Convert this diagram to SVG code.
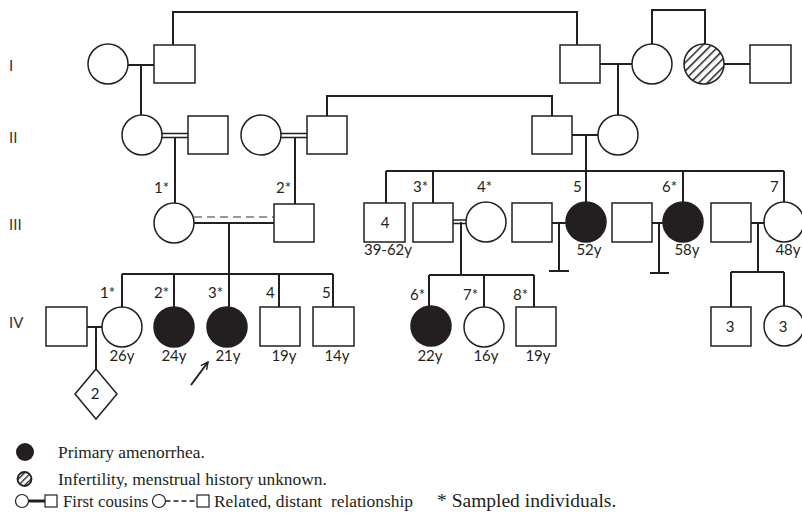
<svg xmlns="http://www.w3.org/2000/svg" width="802" height="519" viewBox="0 0 802 519">
<defs>
<style>
.s{fill:#fff;stroke:#231f20;stroke-width:1.5}
.f{fill:#231f20;stroke:#231f20;stroke-width:1.5}
.h{fill:url(#hatch);stroke:#231f20;stroke-width:1.5}
.c{stroke:#231f20;stroke-width:2;fill:none}
.d{stroke:#231f20;stroke-width:1.3;fill:none}
.g{stroke:#999;stroke-width:2.2;fill:none;stroke-dasharray:8,5}
.t{font-family:Lato,"Liberation Sans",sans-serif;font-size:15px;fill:#231f20}
.gen{font-family:Lato,"Liberation Sans",sans-serif;font-size:15px;fill:#333}
.m{text-anchor:middle}
.leg{font-family:"Liberation Serif","Times New Roman",serif;font-size:17.4px;fill:#231f20}
</style>
<pattern id="hatch" patternUnits="userSpaceOnUse" width="6" height="6" patternTransform="rotate(45)">
<rect width="6" height="6" fill="#fff"/>
<line x1="0" y1="0" x2="0" y2="6" stroke="#231f20" stroke-width="3"/>
</pattern>
<pattern id="hatch2" patternUnits="userSpaceOnUse" width="4.5" height="4.5" patternTransform="rotate(45)">
<rect width="4.5" height="4.5" fill="#fff"/>
<line x1="0" y1="0" x2="0" y2="4.5" stroke="#231f20" stroke-width="2.6"/>
</pattern>
<marker id="arr" viewBox="0 0 10 10" refX="9" refY="5" markerWidth="9" markerHeight="9" orient="auto" markerUnits="userSpaceOnUse">
<path d="M1,1 L9,5 L1,9" fill="none" stroke="#231f20" stroke-width="1.6"/>
</marker>
</defs>
<rect width="802" height="519" fill="#fff"/>

<g id="generations">
<text class="gen" x="9" y="71">I</text>
<text class="gen" x="9" y="143">II</text>
<text class="gen" x="9" y="230">III</text>
<text class="gen" x="9" y="328">IV</text>
</g>

<g id="connectors">
<path class="c" d="M173,45 V12 H577 V45"/>
<path class="c" d="M128,65 H154 M141,65 V115"/>
<path class="c" d="M600,64 H632 M618,64 V115"/>
<path class="c" d="M652,44 V10 H705 V44"/>
<path class="c" d="M724,64 H750"/>
<path class="d" d="M162,133.5 H188 M162,137.5 H188"/>
<path class="c" d="M175,137 V203"/>
<path class="d" d="M281,133.5 H307 M281,137.5 H307"/>
<path class="c" d="M295,137 V204"/>
<path class="c" d="M327,116 V96 H552 V116"/>
<path class="c" d="M572,135 H598 M586,135 V171"/>
<path class="c" d="M386,171 H784 M386,171 V203 M433,171 V203 M586,171 V202 M683,171 V202 M784,171 V202"/>
<path class="g" d="M194,217 H274"/>
<path class="c" d="M194,223 H274 M229,223 V274"/>
<path class="c" d="M122,274 H333 M122,274 V307 M174,274 V307 M229,274 V307 M279,274 V307 M333,274 V307"/>
<path class="d" d="M453,220 H466 M453,223.5 H466"/>
<path class="c" d="M461,222 V275 M429,275 H534 M429,275 V306 M484,275 V307 M534,275 V307"/>
<path class="c" d="M552,223 H566 M559,223 V271 M549,271 H569"/>
<path class="c" d="M652,223 H663 M659,223 V273 M650,273 H669"/>
<path class="c" d="M751,223 H764 M758,223 V272 M731,272 H784 M731,272 V307 M784,272 V306"/>
<path class="c" d="M87,327 H102 M96,327 V369"/>
<path class="c" d="M191,385 L208,362" stroke-width="1.6" marker-end="url(#arr)"/>
</g>

<g id="I-1"><circle class="s" cx="108" cy="64" r="20"/></g>
<g id="I-2"><rect class="s" x="154" y="45" width="41" height="38"/></g>
<g id="I-3"><rect class="s" x="560" y="45" width="40" height="38"/></g>
<g id="I-4"><circle class="s" cx="652" cy="64" r="20"/></g>
<g id="I-5"><circle class="h" cx="704" cy="64" r="20"/></g>
<g id="I-6"><rect class="s" x="750" y="45" width="41" height="38"/></g>

<g id="II-1"><circle class="s" cx="142" cy="135" r="20"/></g>
<g id="II-2"><rect class="s" x="188" y="116" width="40" height="38"/></g>
<g id="II-3"><circle class="s" cx="261" cy="135" r="20"/></g>
<g id="II-4"><rect class="s" x="307" y="116" width="40" height="38"/></g>
<g id="II-5"><rect class="s" x="532" y="116" width="40" height="38"/></g>
<g id="II-6"><circle class="s" cx="618" cy="135" r="20"/></g>

<g id="III-1"><circle class="s" cx="174" cy="223" r="20"/><text class="t" x="154" y="193">1*</text></g>
<g id="III-2"><rect class="s" x="274" y="204" width="40" height="38"/><text class="t" x="276" y="193">2*</text></g>
<g id="III-4x"><rect class="s" x="364" y="203" width="41" height="39"/><text class="t m" x="385" y="228">4</text><text class="t m" x="388" y="255">39-62y</text></g>
<g id="III-3"><rect class="s" x="413" y="203" width="40" height="39"/><text class="t" x="413" y="192">3*</text></g>
<g id="III-4"><circle class="s" cx="486" cy="222" r="20"/><text class="t" x="477" y="192">4*</text></g>
<g id="III-5s"><rect class="s" x="512" y="203" width="40" height="39"/></g>
<g id="III-5"><circle class="f" cx="586" cy="222" r="20"/><text class="t" x="573" y="192">5</text><text class="t m" x="589" y="255">52y</text></g>
<g id="III-6s"><rect class="s" x="612" y="203" width="40" height="39"/></g>
<g id="III-6"><circle class="f" cx="683" cy="222" r="20"/><text class="t" x="662" y="192">6*</text><text class="t m" x="687" y="255">58y</text></g>
<g id="III-7s"><rect class="s" x="711" y="203" width="40" height="39"/></g>
<g id="III-7"><circle class="s" cx="784" cy="222" r="20"/><text class="t" x="770" y="192">7</text><text class="t m" x="788" y="255">48y</text></g>

<g id="IV-s"><rect class="s" x="46" y="307" width="41" height="39"/></g>
<g id="IV-1"><circle class="s" cx="122" cy="327" r="20"/><text class="t" x="100" y="298">1*</text><text class="t m" x="122" y="361">26y</text></g>
<g id="IV-2"><circle class="f" cx="174" cy="327" r="20"/><text class="t" x="154" y="298">2*</text><text class="t m" x="174" y="361">24y</text></g>
<g id="IV-3"><circle class="f" cx="227" cy="327" r="20"/><text class="t" x="208" y="298">3*</text><text class="t m" x="228" y="361">21y</text></g>
<g id="IV-4"><rect class="s" x="260" y="307" width="40" height="39"/><text class="t" x="266" y="298">4</text><text class="t m" x="284" y="361">19y</text></g>
<g id="IV-5"><rect class="s" x="313" y="307" width="41" height="39"/><text class="t" x="322" y="298">5</text><text class="t m" x="337" y="361">14y</text></g>
<g id="IV-child"><polygon class="s" points="96,369 117,394 96,419 75,394"/><text class="t m" x="95" y="399">2</text></g>
<g id="IV-6"><circle class="f" cx="431" cy="326" r="20"/><text class="t" x="410" y="300">6*</text><text class="t m" x="430" y="361">22y</text></g>
<g id="IV-7"><circle class="s" cx="484" cy="327" r="20"/><text class="t" x="463" y="300">7*</text><text class="t m" x="486" y="361">16y</text></g>
<g id="IV-8"><rect class="s" x="516" y="307" width="40" height="39"/><text class="t" x="513" y="300">8*</text><text class="t m" x="538" y="361">19y</text></g>
<g id="IV-9"><rect class="s" x="711" y="307" width="40" height="39"/><text class="t m" x="730" y="332">3</text></g>
<g id="IV-10"><circle class="s" cx="784" cy="326" r="20"/><text class="t m" x="783" y="332">3</text></g>

<g id="legend">
<circle cx="25" cy="452" r="9" fill="#231f20"/>
<text class="leg" x="58" y="458">Primary amenorrhea.</text>
<circle cx="24.5" cy="479" r="7" fill="url(#hatch2)" stroke="#231f20" stroke-width="1.8"/>
<text class="leg" x="58" y="485">Infertility, menstrual history unknown.</text>
<circle cx="22" cy="501" r="6.5" fill="#fff" stroke="#231f20" stroke-width="1.2"/>
<path d="M28.5,501 H45" stroke="#231f20" stroke-width="3"/>
<rect x="45" y="495" width="12" height="12" fill="#fff" stroke="#231f20" stroke-width="1.2"/>
<text class="leg" x="63" y="507" style="font-size:16.8px">First cousins</text>
<circle cx="159" cy="501" r="6.5" fill="#fff" stroke="#231f20" stroke-width="1.2"/>
<path d="M165.5,501 H197" stroke="#231f20" stroke-width="1.5" stroke-dasharray="5,3"/>
<rect x="197" y="495" width="12" height="12" fill="#fff" stroke="#231f20" stroke-width="1.2"/>
<text class="leg" x="214" y="507" xml:space="preserve">Related, distant  relationship</text>
<text class="leg" x="437" y="507" style="font-size:19.5px">* Sampled individuals.</text>
</g>
</svg>
